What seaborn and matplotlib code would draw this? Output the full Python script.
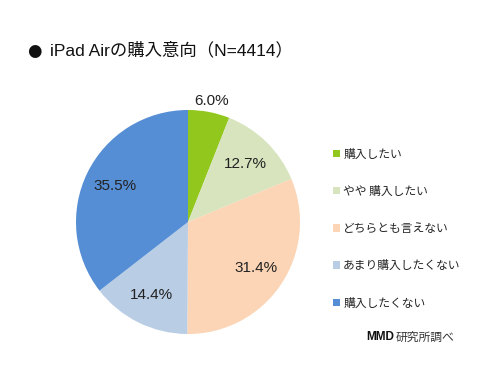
import matplotlib
matplotlib.use("Agg")
from matplotlib import pyplot as plt
import seaborn as sns

# data
categories = ["購入したい", "やや 購入したい", "どちらとも言えない", "あまり購入したくない", "購入したくない"]
shares = [6.0, 12.7, 31.4, 14.4, 35.5]
colors = ["#92C81E", "#D7E4BD", "#FBD5B5", "#B9CDE5", "#558ED5"]

sns.set_theme(style="white")
plt.rcParams["font.family"] = ["Liberation Sans", "Noto Sans CJK JP", "DejaVu Sans"]

fig = plt.figure(figsize=(4.8, 3.76), dpi=100)
fig.patch.set_facecolor("white")

# pie centred at (188, 222) px, radius 112 px
R = 112
half = 120
ax = fig.add_axes([(188 - half) / 480, (376 - 222 - half) / 376, 2 * half / 480, 2 * half / 376])

wedges, texts, autotexts = ax.pie(
    shares,
    colors=sns.color_palette(colors),
    startangle=90,
    counterclock=False,
    autopct="%.1f%%",
    pctdistance=0.73,
    wedgeprops=dict(linewidth=0),
    textprops=dict(fontsize=11, color="#222222"),
)
# smallest slice label sits outside
x, y = autotexts[0].get_position()
autotexts[0].set_position((x * 1.1 / 0.73, y * 1.1 / 0.73))

ax.set_xlim(-half / R, half / R)
ax.set_ylim(-half / R, half / R)
ax.set_aspect("equal")
ax.axis("off")

fig.legend(
    wedges,
    categories,
    loc="upper left",
    bbox_to_anchor=(322 / 480, 1 - 137 / 376),
    frameon=False,
    handlelength=0.6,
    handleheight=0.6,
    handletextpad=0.3,
    labelspacing=2.05,
    prop=dict(family=["Noto Sans CJK JP", "DejaVu Sans"], size=8.5),
)

# title: bullet, then text
fig.text(27 / 480, 1 - 51 / 376, "●", fontsize=12, va="center", ha="left",
         color="#111111", family=["DejaVu Sans"])
fig.text(50 / 480, 1 - 50 / 376, "iPad Airの購入意向（N=4414）",
         fontsize=12.5, va="center", ha="left", color="#111111",
         family=["Liberation Sans", "Noto Sans CJK JP", "DejaVu Sans"])

fig.text(366 / 480, 1 - 337 / 376, "MMD", fontsize=8.5, fontweight="bold",
         va="center", ha="left", color="#111111")
fig.text(396 / 480, 1 - 337 / 376, "研究所調べ", fontsize=8.5,
         va="center", ha="left", color="#333333",
         family=["Noto Sans CJK JP", "DejaVu Sans"])

fig.savefig("out.png", dpi=100, facecolor="white")
